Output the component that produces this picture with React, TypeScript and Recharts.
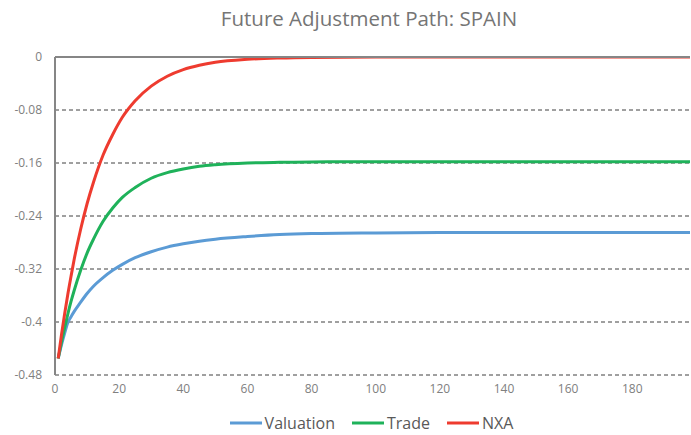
import React from "react";
import {
  LineChart,
  Line,
  XAxis,
  YAxis,
  CartesianGrid,
  Legend,
} from "recharts";

// Period index (x) and the three series values
const periods = [1, 2, 3, 4, 5, 6, 8, 10, 12, 15, 18, 21, 25, 30, 35, 40, 45, 50, 60, 70, 80, 100, 120, 140, 160, 180, 198];
const valuation = [-0.455, -0.435, -0.417, -0.401, -0.392, -0.384, -0.37, -0.357, -0.346, -0.333, -0.322, -0.313, -0.303, -0.294, -0.287, -0.282, -0.278, -0.275, -0.271, -0.268, -0.2665, -0.2655, -0.265, -0.265, -0.265, -0.265, -0.265];
const trade = [-0.455, -0.431, -0.409, -0.388, -0.369, -0.352, -0.322, -0.296, -0.275, -0.248, -0.228, -0.212, -0.197, -0.183, -0.1745, -0.169, -0.165, -0.1626, -0.16, -0.159, -0.1585, -0.158, -0.158, -0.158, -0.158, -0.158, -0.158];
const nxa = [-0.455, -0.42, -0.388, -0.358, -0.331, -0.305, -0.26, -0.2215, -0.189, -0.148, -0.117, -0.091, -0.066, -0.044, -0.029, -0.019, -0.0125, -0.008, -0.0035, -0.0015, -0.0006, -0.0001, 0, 0, 0, 0, 0];

const xTicks = [0, 20, 40, 60, 80, 100, 120, 140, 160, 180];
const xTopTicks = [50, 100, 150];
const yTicks = [0, -0.08, -0.16, -0.24, -0.32, -0.4, -0.48];

const seriesNames = ["Valuation", "Trade", "NXA"];
const seriesColors = ["#5B9BD5", "#1FB25A", "#EE3B2F"];

const data = periods.map((t, i) => ({
  t,
  Valuation: valuation[i],
  Trade: trade[i],
  NXA: nxa[i],
}));

const FONT = "'Open Sans', 'Liberation Sans', sans-serif";

const LegendContent = () => (
  <div
    style={{
      display: "flex",
      justifyContent: "center",
      alignItems: "center",
      height: 24,
      paddingLeft: 52,
      fontFamily: FONT,
      fontSize: 16,
      color: "#595959",
    }}
  >
    {seriesNames.map((name, i) => (
      <div
        key={name}
        style={{ display: "flex", alignItems: "center", marginLeft: i === 0 ? 0 : 17 }}
      >
        <svg width={32} height={6} style={{ display: "block" }}>
          <line x1={0} y1={3} x2={32} y2={3} stroke={seriesColors[i]} strokeWidth={3} />
        </svg>
        <span style={{ marginLeft: 3, lineHeight: "24px" }}>{name}</span>
      </div>
    ))}
  </div>
);

export default function App() {
  return (
    <div style={{ position: "absolute", left: 0, top: 0, width: 691, height: 435, background: "#fff" }}>
      <div
        style={{
          position: "absolute",
          left: 0,
          top: 6,
          width: 691,
          paddingLeft: 47,
          boxSizing: "border-box",
          textAlign: "center",
          fontFamily: FONT,
          fontSize: 20.5,
          lineHeight: "24px",
          color: "#757575",
        }}
      >
        Future Adjustment Path: SPAIN
      </div>
      <LineChart
        width={691}
        height={435}
        data={data}
        margin={{ top: 57, right: 1, bottom: 0, left: 5 }}
      >
        <CartesianGrid
          vertical={false}
          stroke="#404040"
          strokeDasharray="4 3"
          strokeWidth={1}
        />
        <XAxis
          dataKey="t"
          type="number"
          domain={[0, 198]}
          ticks={xTicks}
          axisLine={false}
          tickLine={false}
          tickSize={0}
          tickMargin={9}
          height={36}
          interval={0}
          tick={{ fill: "#808080", fontSize: 12, fontFamily: FONT }}
          allowDataOverflow
        />
        <XAxis
          xAxisId="top"
          dataKey="t"
          type="number"
          orientation="top"
          mirror
          domain={[0, 198]}
          ticks={xTopTicks}
          axisLine={{ stroke: "#868686", strokeWidth: 2 }}
          tickLine={{ stroke: "#595959", strokeWidth: 1 }}
          tickSize={5}
          tick={false}
          allowDataOverflow
        />
        <YAxis
          type="number"
          domain={[-0.48, 0]}
          ticks={yTicks}
          interval={0}
          width={50}
          axisLine={{ stroke: "#868686", strokeWidth: 2 }}
          tickLine={false}
          tickSize={0}
          tickMargin={13}
          tickFormatter={(v: number) => String(Number(v.toFixed(2)))}
          tick={{ fill: "#808080", fontSize: 12, fontFamily: FONT }}
          allowDataOverflow
        />
        <Legend verticalAlign="bottom" wrapperStyle={{ left: 0, width: 691, height: 24 }} content={LegendContent} />
        {seriesNames.map((name, i) => (
          <Line
            key={name}
            dataKey={name}
            type="monotone"
            stroke={seriesColors[i]}
            strokeWidth={3}
            dot={false}
            activeDot={false}
            isAnimationActive={false}
          />
        ))}
      </LineChart>
    </div>
  );
}
